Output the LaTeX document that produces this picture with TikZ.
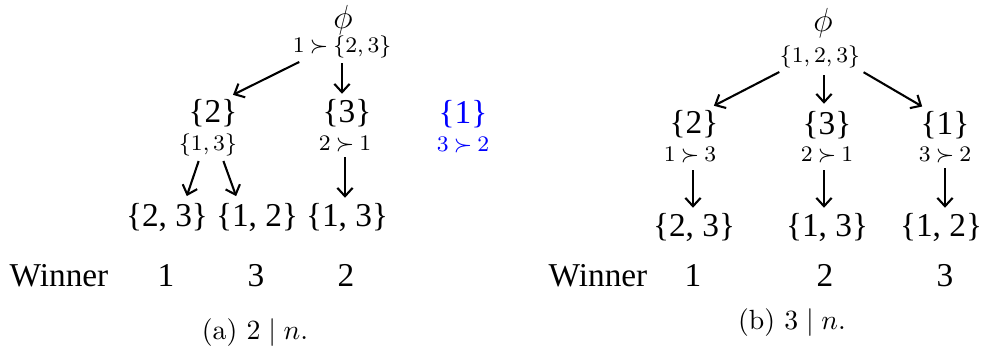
\documentclass[tikz,border=0pt]{standalone}
\usepackage{amsmath,amssymb}
\usepackage{fontspec}
\newfontfamily\timesfont{Liberation Serif}
\newcommand{\pf}{\mskip4mu{\succ}\mskip4mu}
\usetikzlibrary{positioning, arrows.meta, calc}

\begin{document}
\begin{tikzpicture}[
        x=0.36pt, y=-0.36pt,
        set/.style={
            anchor=base,
            inner sep=0pt,
            font=\timesfont\fontsize{12}{14}\selectfont
        },
        lbl/.style={
            anchor=base,
            inner sep=0pt,
            font=\fontsize{8}{9}\selectfont
        },
        root/.style={
            inner sep=0pt,
            font=\fontsize{13}{15}\selectfont
        },
        capt/.style={
            anchor=base,
            inner sep=0pt,
            font=\fontsize{10}{12}\selectfont
        },
        line/.style={draw, -{Straight Barb[length=3pt,width=5.5pt]}, line width=0.75pt, shorten <=1.5pt, shorten >=2pt}
    ]
        \useasboundingbox (0,0) rectangle (991,356);

        % (a) 2 | n
        \node [root] (aphi) at (343,20) {$\phi$};
        \node [lbl] (aroot) at (342,53) {$1\pf\{2,3\}$};
        \node [set] (a2) at (213,123) {\{2\}};
        \node [lbl] (al2) at (208,151) {$\{1,3\}$};
        \node [set] (a3) at (347,123) {\{3\}};
        \node [lbl] (al3) at (345,151) {$2\pf1$};
        \node [set, text=blue] (a1) at (463,124) {\{1\}};
        \node [lbl, text=blue] (al1) at (463,152) {$3\pf2$};
        \node [set] (a23) at (167,227) {\{2, 3\}};
        \node [set] (a12) at (257,227) {\{1, 2\}};
        \node [set] (a13) at (347,227) {\{1, 3\}};
        \node [set] (awin) at (59,287) {Winner};
        \node [set] (aw1) at (166,287) {1};
        \node [set] (aw3) at (256,287) {3};
        \node [set] (aw2) at (346,287) {2};
        \node [capt] (acap) at (255,340) {(a) $2 \mid n$.};

        \path [line] ($(aroot.south)+(-39,1)$) -- ($(a2.north)+(15,-2)$);
        \path [line] (aroot.south) -- (aroot.south |- a3.north);
        \path [line] ($(al2.south)+(-8,0)$) -- ($(a23.north)+(18,-2)$);
        \path [line] ($(al2.south)+(14,0)$) -- ($(a12.north)+(-19,-2)$);
        \path [line] (al3.south) -- (al3.south |- a13.north);

        % (b) 3 | n
        \node [root] (bphi) at (823,23) {$\phi$};
        \node [lbl] (broot) at (820,63) {$\{1,2,3\}$};
        \node [set] (b2) at (694,134) {\{2\}};
        \node [lbl] (bl2) at (690,162) {$1\pf3$};
        \node [set] (b3) at (827,135) {\{3\}};
        \node [lbl] (bl3) at (827,162) {$2\pf1$};
        \node [set] (b1) at (945,135) {\{1\}};
        \node [lbl] (bl1) at (945,162) {$3\pf2$};
        \node [set] (b23) at (694,237) {\{2, 3\}};
        \node [set] (b13) at (827,237) {\{1, 3\}};
        \node [set] (b12) at (941,237) {\{1, 2\}};
        \node [set] (bwin) at (598,287) {Winner};
        \node [set] (bw1) at (693,287) {1};
        \node [set] (bw2) at (825,287) {2};
        \node [set] (bw3) at (945,287) {3};
        \node [capt] (bcap) at (792,330) {(b) $3 \mid n$.};

        \path [line] ($(broot.south)+(-37,1)$) -- ($(b2.north)+(15,-2)$);
        \path [line] ($(broot.south)+(4,2)$) -- ($(broot.south |- b3.north)+(4,-2)$);
        \path [line] ($(broot.south)+(40,1)$) -- ($(b1.north)+(-18,-2)$);
        \path [line] ($(bl2.south)+(3,2)$) -- ($(bl2.south |- b23.north)+(3,0)$);
        \path [line] ($(bl3.south)+(-3,2)$) -- ($(bl3.south |- b13.north)+(-3,0)$);
        \path [line] (bl1.south) -- (bl1.south |- b12.north);
    \end{tikzpicture}
\end{document}
